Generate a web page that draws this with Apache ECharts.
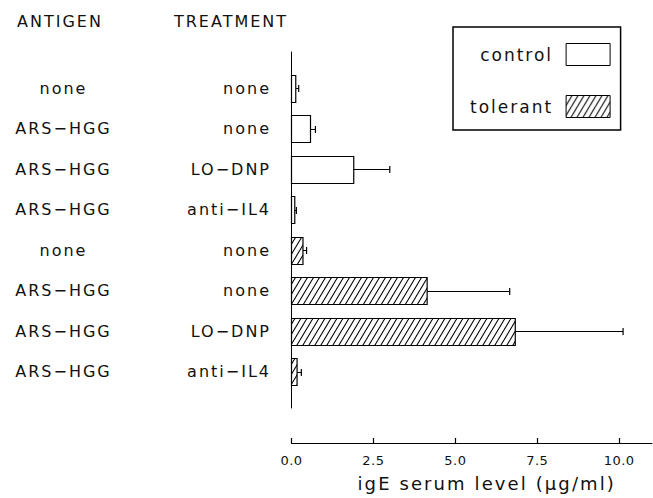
<!DOCTYPE html>
<html>
<head>
<meta charset="utf-8">
<script src="https://cdn.jsdelivr.net/npm/echarts@6/dist/echarts.min.js"></script>
<style>
  html, body { margin: 0; padding: 0; background: #fff; }
  #main { width: 653px; height: 498px; }
  #main text[style*="16px"] { letter-spacing: 2px; }
  #main text[style*="17px"] { letter-spacing: 2px; }
  #main text[style*="18px"] { letter-spacing: 2.1px; }
  #main text[style*="13px"] { letter-spacing: 0.5px; }
</style>
</head>
<body>
<div id="main"></div>
<script>
// ---- data ----
const antigens   = ['none', 'ARS\u2212HGG', 'ARS\u2212HGG', 'ARS\u2212HGG', 'none', 'ARS\u2212HGG', 'ARS\u2212HGG', 'ARS\u2212HGG'];
const treatments = ['none', 'none', 'LO\u2212DNP', 'anti\u2212IL4', 'none', 'none', 'LO\u2212DNP', 'anti\u2212IL4'];
const controlMean  = [0.13, 0.58, 1.90, 0.10];
const controlSD    = [0.09, 0.15, 1.10, 0.05];
const tolerantMean = [0.35, 4.14, 6.83, 0.17];
const tolerantSD   = [0.11, 2.52, 3.29, 0.13];
const xTicks = [0, 2.5, 5, 7.5, 10];
const rowPositions = [1, 2, 3, 4, 5, 6, 7, 8];

// ---- styling ----
const FONT = 'DejaVu Sans';
const INK = '#111';
const BAR_H = 0.667; // bar thickness in row units

function makeHatch() {
  const c = document.createElement('canvas');
  c.width = 6; c.height = 10;
  const ctx = c.getContext('2d');
  ctx.fillStyle = '#fff';
  ctx.fillRect(0, 0, 6, 10);
  ctx.strokeStyle = '#000';
  ctx.lineWidth = 1.1;
  [-6, 0, 6].forEach(x0 => {
    ctx.beginPath();
    ctx.moveTo(x0, 10);
    ctx.lineTo(x0 + 6, 0);
    ctx.stroke();
  });
  return c;
}
const hatchCanvas = makeHatch();
const hatch = { image: hatchCanvas, repeat: 'repeat', imageWidth: 6, imageHeight: 10 };

function seriesData(means, sds, offset) {
  return means.map((m, i) => [rowPositions[offset + i], m, m + sds[i]]);
}

function makeRender(fill) {
  return function (params, api) {
    const pos = api.value(0), v = api.value(1), e = api.value(2);
    const p0 = api.coord([0, pos]);
    const p1 = api.coord([v, pos]);
    const pe = api.coord([e, pos]);
    const h = Math.abs(api.size([0, BAR_H])[1]);
    const cy = Math.round(p0[1]) + 0.5;
    return {
      type: 'group',
      children: [
        { type: 'line', shape: { x1: p1[0], y1: cy, x2: pe[0], y2: cy }, style: { stroke: '#000', lineWidth: 1 } },
        { type: 'line', shape: { x1: pe[0], y1: cy - 3.5, x2: pe[0], y2: cy + 3.5 }, style: { stroke: '#000', lineWidth: 1.2 } },
        { type: 'rect', shape: { x: p0[0], y: Math.round(p0[1] - h / 2) + 0.5, width: p1[0] - p0[0], height: Math.round(h) },
          style: { fill: fill, stroke: '#000', lineWidth: 1.2 } }
      ]
    };
  };
}

const chart = echarts.init(document.getElementById('main'), null, { renderer: 'svg', width: 653, height: 498 });

const yBase = {
  type: 'value', gridIndex: 0, inverse: true, min: 0.1, max: 8.9, position: 'left',
  splitLine: { show: false }, axisTick: { show: false }
};

chart.setOption({
  animation: false,
  backgroundColor: '#fff',
  grid: { left: 291.5, top: 52, width: 360.4, height: 356, containLabel: false, outerBoundsMode: 'none' },
  xAxis: {
    type: 'value', min: 0, max: 11, offset: 35,
    axisLine: { show: true, onZero: false, lineStyle: { color: '#000', width: 1.2 } },
    axisTick: { show: true, inside: true, length: 5, customValues: xTicks, lineStyle: { color: '#000', width: 1.2 } },
    splitLine: { show: false },
    axisLabel: {
      customValues: xTicks, margin: 11,
      formatter: v => Number(v).toFixed(1),
      fontFamily: FONT, fontSize: 13, color: INK
    },
    name: 'igE serum level (\u03bcg/ml)',
    nameLocation: 'middle', nameGap: 31,
    nameTextStyle: { fontFamily: FONT, fontSize: 18, color: INK, padding: [0, 0, 0, 30] }
  },
  yAxis: [
    Object.assign({}, yBase, {
      axisLine: { show: true, onZero: false, lineStyle: { color: '#000', width: 1 } },
      axisLabel: {
        customValues: rowPositions, margin: 20.5,
        formatter: v => treatments[Math.round(v) - 1],
        fontFamily: FONT, fontSize: 16, color: INK
      }
    }),
    Object.assign({}, yBase, {
      axisLine: { show: false },
      axisLabel: {
        customValues: rowPositions, margin: 228, align: 'center',
        formatter: v => antigens[Math.round(v) - 1],
        fontFamily: FONT, fontSize: 16, color: INK
      }
    })
  ],
  legend: {
    orient: 'vertical', left: 453, top: 27, align: 'right',
    selectedMode: false,
    padding: [16, 10, 12, 33],
    borderColor: '#000', borderWidth: 1.5,
    itemWidth: 44, itemHeight: 22, itemGap: 29,
    textStyle: { fontFamily: FONT, fontSize: 17, color: INK, width: 80, padding: [0, 8, 0, 0] },
    data: [
      { name: 'control', icon: 'rect', itemStyle: { color: '#fff', borderColor: '#000', borderWidth: 1 } },
      { name: 'tolerant', icon: 'rect', itemStyle: { color: hatch, borderColor: '#000', borderWidth: 1 } }
    ]
  },
  graphic: [
    { type: 'text', x: 60, y: 21, style: { text: 'ANTIGEN', font: '16px "DejaVu Sans"', fontSize: 16, fontFamily: FONT, fill: INK, align: 'center', verticalAlign: 'middle', textAlign: 'center', textVerticalAlign: 'middle' } },
    { type: 'text', x: 231, y: 21, style: { text: 'TREATMENT', font: '16px "DejaVu Sans"', fontSize: 16, fontFamily: FONT, fill: INK, align: 'center', verticalAlign: 'middle', textAlign: 'center', textVerticalAlign: 'middle' } }
  ],
  series: [
    {
      name: 'control', type: 'custom', xAxisIndex: 0, yAxisIndex: 0,
      itemStyle: { color: '#fff', borderColor: '#000', borderWidth: 1 },
      encode: { x: [1, 2], y: 0 },
      renderItem: makeRender('#fff'),
      data: seriesData(controlMean, controlSD, 0)
    },
    {
      name: 'tolerant', type: 'custom', xAxisIndex: 0, yAxisIndex: 0,
      itemStyle: { color: hatch, borderColor: '#000', borderWidth: 1 },
      encode: { x: [1, 2], y: 0 },
      renderItem: makeRender(hatch),
      data: seriesData(tolerantMean, tolerantSD, 4)
    }
  ]
});
</script>
</body>
</html>
